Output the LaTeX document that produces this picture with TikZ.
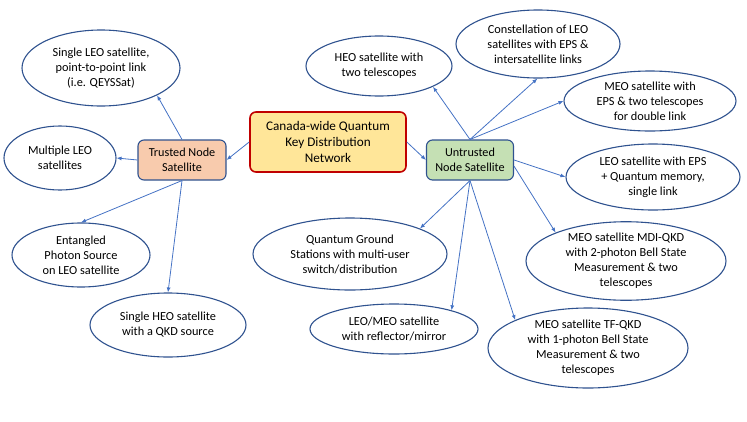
\documentclass[tikz,border=0pt]{standalone}
\usepackage{fontspec}
\setmainfont{Carlito}
\usetikzlibrary{arrows.meta,shapes.geometric}
\definecolor{ovalblue}{HTML}{2F528F}
\definecolor{linkblue}{HTML}{4472C4}
\definecolor{netred}{HTML}{C00000}
\definecolor{netfill}{HTML}{FFE699}
\definecolor{trustfill}{HTML}{F8CBAD}
\definecolor{untrustfill}{HTML}{C5E0B4}

\begin{document}
\begin{tikzpicture}[x=1pt,y=-1pt,
  oval/.style={ellipse,draw=ovalblue,line width=1.1pt,fill=white,inner sep=0pt,align=center,font=\fontsize{12.3}{15}\selectfont},
  hub/.style={rectangle,rounded corners=6pt,draw=ovalblue,line width=1.1pt,inner sep=0pt,align=center,font=\fontsize{12.2}{15}\selectfont},
  link/.style={draw=linkblue,line width=0.8pt,-{Latex[length=5pt,width=4pt]}}]
\useasboundingbox (0,0) rectangle (747,421);
\node[hub,draw=netred,line width=1.6pt,fill=netfill,minimum width=156pt,minimum height=60pt,font=\fontsize{13.2}{16}\selectfont] (net) at (328,142) {Canada-wide Quantum\\Key Distribution\\Network};
\node[hub,fill=trustfill,minimum width=88pt,minimum height=40pt] (tn) at (182,160) {Trusted Node\\Satellite};
\node[hub,fill=untrustfill,minimum width=87pt,minimum height=40pt] (un) at (470,160) {Untrusted\\Node Satellite};
% trusted node side
\node[oval,minimum width=158pt,minimum height=76pt] (leo1) at (101,68) {Single LEO satellite,\\point-to-point link\\(i.e. QEYSSat)};
\node[oval,minimum width=112pt,minimum height=64pt] (leoN) at (60,158) {Multiple LEO\\satellites};
\node[oval,minimum width=138pt,minimum height=64pt] (ent) at (81,255) {Entangled\\Photon Source\\on LEO satellite};
\node[oval,minimum width=156pt,minimum height=64pt] (heo1) at (168,325) {Single HEO satellite\\with a QKD source};
% untrusted node side
\node[oval,minimum width=146pt,minimum height=60pt] (heo2) at (379,66) {HEO satellite with\\two telescopes};
\node[oval,minimum width=164pt,minimum height=68pt] (const) at (538,44) {Constellation of LEO\\satellites with EPS \&\\intersatellite links};
\node[oval,minimum width=172pt,minimum height=60pt] (meo) at (650,101) {MEO satellite with\\EPS \& two telescopes\\for double link};
\node[oval,minimum width=174pt,minimum height=66pt] (mem) at (653,177) {LEO satellite with EPS\\+ Quantum memory,\\single link};
\node[oval,minimum width=194pt,minimum height=72pt] (gnd) at (350,254) {Quantum Ground\\Stations with multi-user\\switch/distribution};
\node[oval,minimum width=168pt,minimum height=50pt] (mir) at (394,329) {LEO/MEO satellite\\with reflector/mirror};
\node[oval,minimum width=200pt,minimum height=74pt] (mdi) at (626,261) {MEO satellite MDI-QKD\\with 2-photon Bell State\\Measurement \& two\\telescopes};
\node[oval,minimum width=200pt,minimum height=80pt] (tf) at (588,348) {MEO satellite TF-QKD\\with 1-photon Bell State\\Measurement \& two\\telescopes};
\draw[link] (net.west) -- (tn.east);
\draw[link] (net.east) -- (un.west);
\draw[link] (tn.north) -- (leo1.-26);
\draw[link] (tn.west) -- (leoN.east);
\draw[link] (tn.south) -- (ent.north);
\draw[link] (tn.south) -- (heo1.north);
\draw[link] (un.north) -- (heo2.-21);
\draw[link] (un.north) -- (const.-91);
\draw[link] (un.north) -- (meo.west);
\draw[link] (un.east) -- (mem.west);
\draw[link] (un.-8) -- (mdi.158);
\draw[link] (un.south) -- (gnd.20);
\draw[link] (un.south) -- (mir.18);
\draw[link] (un.south) -- (tf.159);
\end{tikzpicture}
\end{document}
